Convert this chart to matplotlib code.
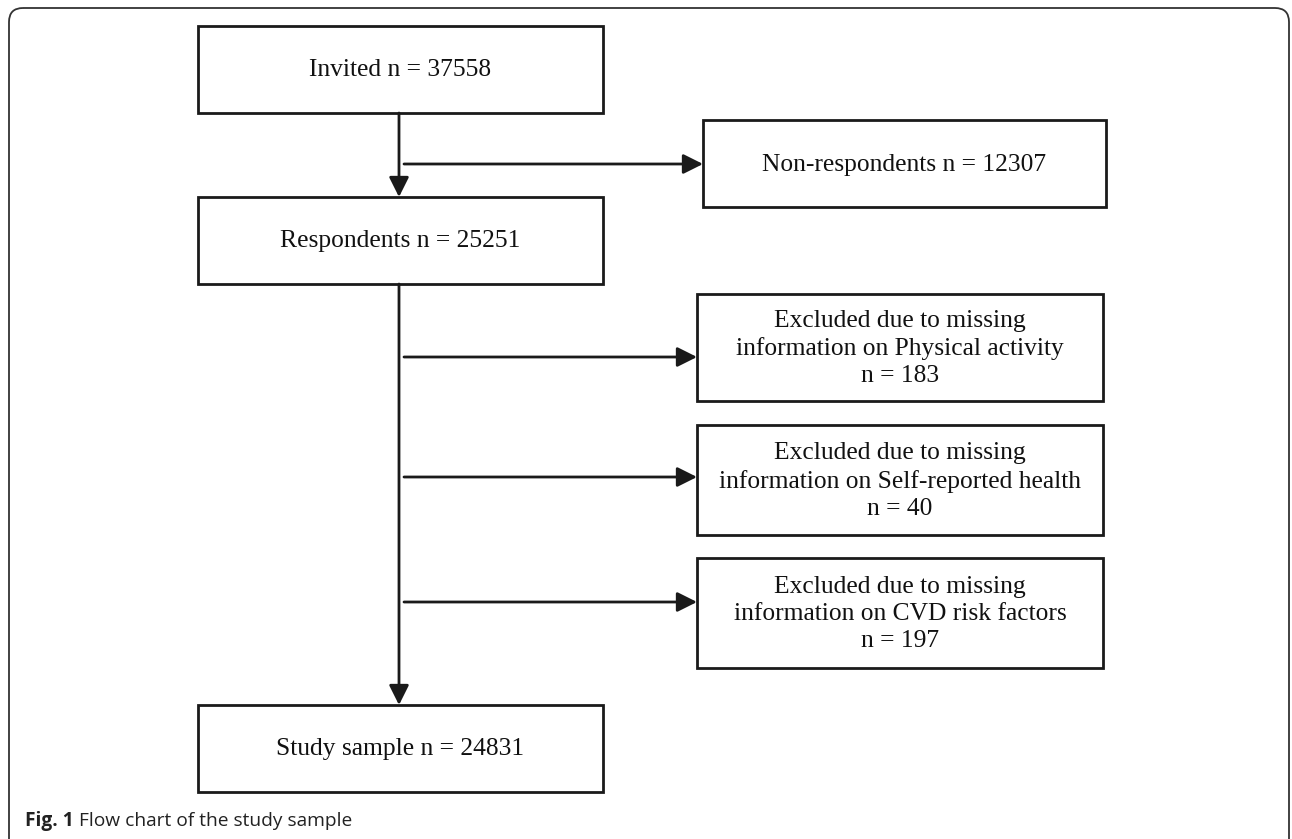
from matplotlib import pyplot as plt
from matplotlib.patches import Rectangle, FancyBboxPatch

# box texts
main_labels = ["Invited n = 37558", "Respondents n = 25251", "Study sample n = 24831"]
side_labels = ["Non-respondents n = 12307",
               "Excluded due to missing\ninformation on Physical activity\nn = 183",
               "Excluded due to missing\ninformation on Self-reported health\nn = 40",
               "Excluded due to missing\ninformation on CVD risk factors\nn = 197"]
caption_bold = "Fig. 1"
caption_text = "Flow chart of the study sample"

# layout in pixels (x0, y0, x1, y1)
main_boxes = [(198, 26, 603, 113), (198, 197, 603, 284), (198, 705, 603, 792)]
side_boxes = [(703, 120, 1106, 207), (697, 294, 1103, 401),
              (697, 425, 1103, 535), (697, 558, 1103, 668)]
arrow_y = [164, 357, 477, 602]
trunk_x = 399

W, H = 1292, 839
fig = plt.figure(figsize=(W / 100, H / 100), dpi=100)
ax = fig.add_axes([0, 0, 1, 1])
ax.set_xlim(0, W)
ax.set_ylim(H, 0)
ax.axis('off')

col = '#1a1a1a'

# outer rounded frame
frame = FancyBboxPatch((9, 8), 1280, 850, boxstyle="round,pad=0,rounding_size=14",
                       fill=False, edgecolor='#333333', linewidth=1.3)
ax.add_patch(frame)

serif = ['Liberation Serif', 'DejaVu Serif']

def draw_box(b, label):
    x0, y0, x1, y1 = b
    ax.add_patch(Rectangle((x0, y0), x1 - x0, y1 - y0, fill=False,
                           edgecolor=col, linewidth=2))
    ax.text((x0 + x1) / 2, (y0 + y1) / 2 + 1, label, ha='center', va='center',
            family=serif, fontsize=18.4, color='#111111', linespacing=1.3)

for b, lab in zip(main_boxes, main_labels):
    draw_box(b, lab)
for b, lab in zip(side_boxes, side_labels):
    draw_box(b, lab)

arrow_kw = dict(arrowstyle='-|>,head_length=1.2,head_width=0.6', color=col,
                linewidth=2, shrinkA=0, shrinkB=0, mutation_scale=10)

# vertical arrows
ax.annotate('', xy=(trunk_x, main_boxes[1][1]), xytext=(trunk_x, main_boxes[0][3]),
            arrowprops=arrow_kw)
ax.annotate('', xy=(trunk_x, main_boxes[2][1]), xytext=(trunk_x, main_boxes[1][3]),
            arrowprops=arrow_kw)

# horizontal arrows
for y, b in zip(arrow_y, side_boxes):
    ax.annotate('', xy=(b[0], y), xytext=(trunk_x + 5, y), arrowprops=arrow_kw)

# caption
sans = ['Open Sans', 'DejaVu Sans']
t = ax.text(25, 821, caption_bold, ha='left', va='center', family=sans,
            fontsize=13.8, fontweight='bold', color='#222222')
fig.canvas.draw()
bb = t.get_window_extent()
x_end = ax.transData.inverted().transform((bb.x1, 0))[0]
ax.text(x_end + 5, 821, caption_text, ha='left', va='center', family=sans,
        fontsize=13.8, color='#222222')

fig.savefig('out.png', dpi=100)
